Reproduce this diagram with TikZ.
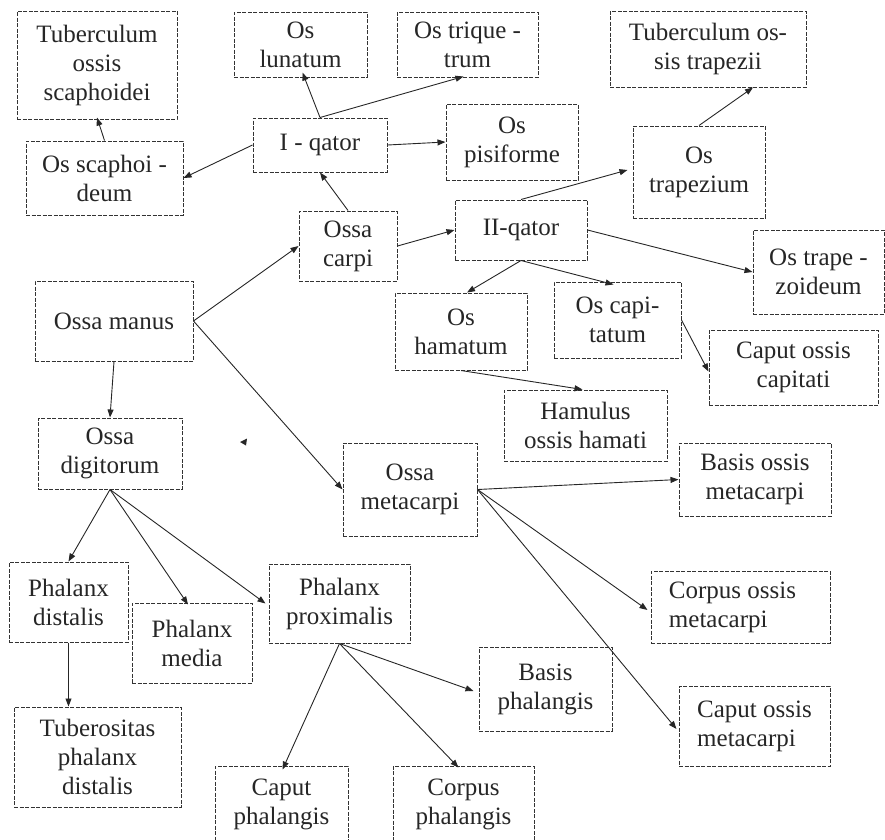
\documentclass[tikz,border=0pt]{standalone}
\usepackage{fontspec}
\setmainfont{Liberation Serif}
\usetikzlibrary{arrows.meta}
\tikzset{
  bx/.style={draw=black!80, line width=1pt, dash pattern=on 4pt off 1.5pt, inner sep=0pt,
    align=center, font=\fontsize{25}{29}\selectfont, text=black!85},
  bxl/.style={bx, align=left},
  con/.style={draw=black!85, line width=0.9pt, -{Triangle[length=8pt,width=6pt]}}
}
\newcommand{\bxnode}[6]{\node[#1, minimum width=#4pt, minimum height=#5pt] (#2) at (#3) {#6};}
\begin{document}
\begin{tikzpicture}[x=1pt,y=-1pt]
\useasboundingbox (0,0) rectangle (885,839);
\begin{scope}
\clip (0,0) rectangle (885,839);
\bxnode{bx}{tubs}{97,65}{160}{108}{Tuberculum\\ossis\\scaphoidei}
\bxnode{bx}{lun}{300.5,44.5}{133}{65}{Os\\lunatum}
\bxnode{bx}{triq}{467.5,44.5}{141}{65}{Os trique -\\trum}
\bxnode{bx}{tubt}{708,49}{196}{76}{Tuberculum os-\\sis trapezii}
\bxnode{bx}{scaph}{104.5,178}{157}{74}{Os scaphoi -\\deum}
\bxnode{bx}{q1}{320,145}{134}{54}{I - qator}
\bxnode{bx}{pisi}{512,142}{132}{76}{Os\\pisiforme}
\bxnode{bx}{trapz}{699,172}{132}{92}{Os\\trapezium}
\bxnode{bx}{carpi}{348,246}{98}{70}{Ossa\\carpi}
\bxnode{bx}{q2}{521,230}{132}{60}{II-qator}
\bxnode{bx}{trzd}{818.5,272}{131}{84}{Os trape -\\zoideum}
\bxnode{bx}{manus}{114,321}{158}{80}{Ossa manus}
\bxnode{bx}{ham}{461,331.5}{132}{77}{Os\\hamatum}
\bxnode{bx}{capt}{617.5,320}{127}{76}{Os capi-\\tatum}
\bxnode{bx}{capcap}{793.5,367.5}{169}{75}{Caput ossis\\capitati}
\bxnode{bx}{hamul}{585.5,425.5}{163}{71}{Hamulus\\ossis hamati}
\bxnode{bx}{digit}{110,453.5}{144}{71}{Ossa\\digitorum}
\bxnode{bx}{meta}{410,489.5}{134}{93}{Ossa\\metacarpi}
\bxnode{bx}{basmeta}{755,479.5}{152}{73}{Basis ossis\\metacarpi}
\bxnode{bxl}{corpmeta}{740.5,607}{179}{72}{\hspace*{14pt}Corpus ossis\hspace*{30pt}\\\hspace*{14pt}metacarpi}
\bxnode{bxl}{capmeta}{754.5,726}{151}{80}{\hspace*{12pt}Caput ossis\hspace*{12pt}\\\hspace*{12pt}metacarpi}
\bxnode{bx}{basph}{545.5,689}{133}{84}{Basis\\phalangis}
\bxnode{bx}{pdist}{68.5,602}{119}{80}{Phalanx\\distalis}
\bxnode{bx}{pmed}{192,643}{120}{80}{Phalanx\\media}
\bxnode{bx}{pprox}{339.5,603.5}{141}{79}{Phalanx\\proximalis}
\bxnode{bx}{tubdist}{97.5,757}{167}{100}{Tuberositas\\phalanx\\distalis}
\bxnode{bx}{capph}{281.5,804}{133}{76}{Caput\\phalangis}
\bxnode{bx}{corpph}{463.5,804}{141}{76}{Corpus\\phalangis}
\end{scope}
% connectors
\draw[con] (q1.north) -- ([xshift=2pt,yshift=5pt]lun.south);
\draw[con] (q1.north) -- ([xshift=-4pt,yshift=1pt]triq.south);
\draw[con] (q1.west) -- (scaph.east);
\draw[con] (q1.east) -- (pisi.west);
\draw[con] (scaph.north) -- ([yshift=2pt]tubs.south);
\draw[con] (carpi.north) -- (q1.south);
\draw[con] (carpi.east) -- (q2.west);
\draw[con] (manus.east) -- (carpi.west);
\draw[con] (manus.east) -- (meta.west);
\draw[con] (manus.south) -- (digit.north);
\draw[con] (q2.north) -- ([xshift=-5pt,yshift=2pt]trapz.west);
\draw[con] (trapz.north) -- ([xshift=45pt]tubt.south);
\draw[con] (q2.east) -- (trzd.west);
\draw[con] (q2.south) -- ([xshift=6pt]ham.north);
\draw[con] (q2.south) -- ([xshift=-4pt,yshift=-3pt]capt.north);
\draw[con] (capt.east) -- ([yshift=-4pt]capcap.west);
\draw[con] (ham.south) -- ([xshift=-3pt]hamul.north);
\draw[con] (meta.east) -- (basmeta.west);
\draw[con] (meta.east) -- ([xshift=-3pt,yshift=-3pt]corpmeta.west);
\draw[con] (meta.east) -- ([xshift=-2pt,yshift=-3pt]capmeta.west);
\draw[con] (digit.south) -- (pdist.north);
\draw[con] (digit.south) -- ([xshift=-4pt,yshift=-2pt]pmed.north);
\draw[con] (digit.south) -- ([xshift=-3pt]pprox.west);
\draw[con] (pdist.south) -- (pdist.south |- tubdist.north);
\draw[con] (pprox.south) -- ([xshift=1pt,yshift=-4pt]capph.north);
\draw[con] (pprox.south) -- ([xshift=-5pt,yshift=-2pt]corpph.north);
\draw[con] (pprox.south) -- ([xshift=-5pt,yshift=-2pt]basph.west);
% stray arrowhead
\fill[black!85] (240,442) -- (247,438.5) -- (246,445.5) -- cycle;
\end{tikzpicture}
\end{document}
